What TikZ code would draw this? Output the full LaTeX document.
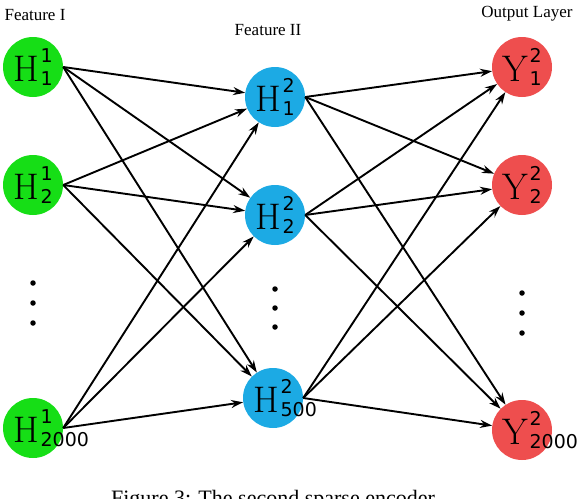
\documentclass[tikz,border=0pt]{standalone}
\usepackage{fontspec}
\usetikzlibrary{arrows.meta}
\newfontfamily\dvs{DejaVu Sans}
\newfontfamily\lib{Liberation Serif}
\definecolor{ngreen}{RGB}{22,222,22}
\definecolor{nblue}{RGB}{28,170,228}
\definecolor{nred}{RGB}{238,78,78}
\newcommand\nlab[3]{\makebox[0pt][l]{\hspace*{-20pt}{\fontsize{37}{37}\selectfont #1}\hspace{2pt}\rlap{\raisebox{19pt}{\dvs\fontsize{19}{19}\selectfont #2}}\raisebox{-4.5pt}{\dvs\fontsize{19}{19}\selectfont #3}}}
\begin{document}
\begin{tikzpicture}[x=1pt,y=-1pt,
  neuron/.style={circle, minimum size=60pt, inner sep=0pt},
  ing/.style={neuron, fill=ngreen},
  hid/.style={neuron, fill=nblue},
  outp/.style={neuron, fill=nred},
  dotn/.style={circle, fill=black, minimum size=5.5pt, inner sep=0pt},
  edge/.style={-{Stealth[length=12pt,width=8pt]}, line width=1.9pt},
  ttl/.style={font=\lib\fontsize{17}{17}\selectfont, inner sep=0pt}]
\useasboundingbox (0,0) rectangle (588,498);
% titles
\node[ttl] (t1) at (35,15) {Feature I};
\node[ttl] (t2) at (268,30) {Feature II};
\node[ttl] (t3) at (527,14) {Output Layer};
% neurons
\node[ing] (L1) at (33,67) {\nlab{H}{1}{1}};
\node[ing] (L2) at (33,185) {\nlab{H}{1}{2}};
\node[ing] (L3) at (33,428) {\nlab{H}{1}{2000}};
\node[hid] (M1) at (275,97) {\nlab{H}{2}{1}};
\node[hid] (M2) at (275,215) {\nlab{H}{2}{2}};
\node[hid] (M3) at (273,398) {\nlab{H}{2}{500}};
\node[outp] (R1) at (522,67) {\nlab{Y}{2}{1}};
\node[outp] (R2) at (522,185) {\nlab{Y}{2}{2}};
\node[outp] (R3) at (522,430) {\nlab{Y}{2}{2000}};
% dots
\node[dotn] (dl1) at (33,283) {};
\node[dotn] (dl2) at (33,303) {};
\node[dotn] (dl3) at (33,323) {};
\node[dotn] (dm1) at (275,289) {};
\node[dotn] (dm2) at (275,308) {};
\node[dotn] (dm3) at (275,327) {};
\node[dotn] (dr1) at (522,293) {};
\node[dotn] (dr2) at (522,313) {};
\node[dotn] (dr3) at (522,333) {};
% edges
\foreach \s in {L1,L2,L3}{
  \foreach \t in {M1,M2,M3}{
    \draw[edge] (\s.east) -- (\t);
  }
}
\foreach \s in {M1,M2,M3}{
  \foreach \t in {R1,R2,R3}{
    \draw[edge] (\s.east) -- (\t);
  }
}
% caption (cut off at the bottom edge, as in the reference)
\node[font=\lib\fontsize{22}{22}\selectfont, anchor=base, inner sep=0pt] (cap) at (273,505) {Figure 3: The second sparse encoder};
\end{tikzpicture}
\end{document}
